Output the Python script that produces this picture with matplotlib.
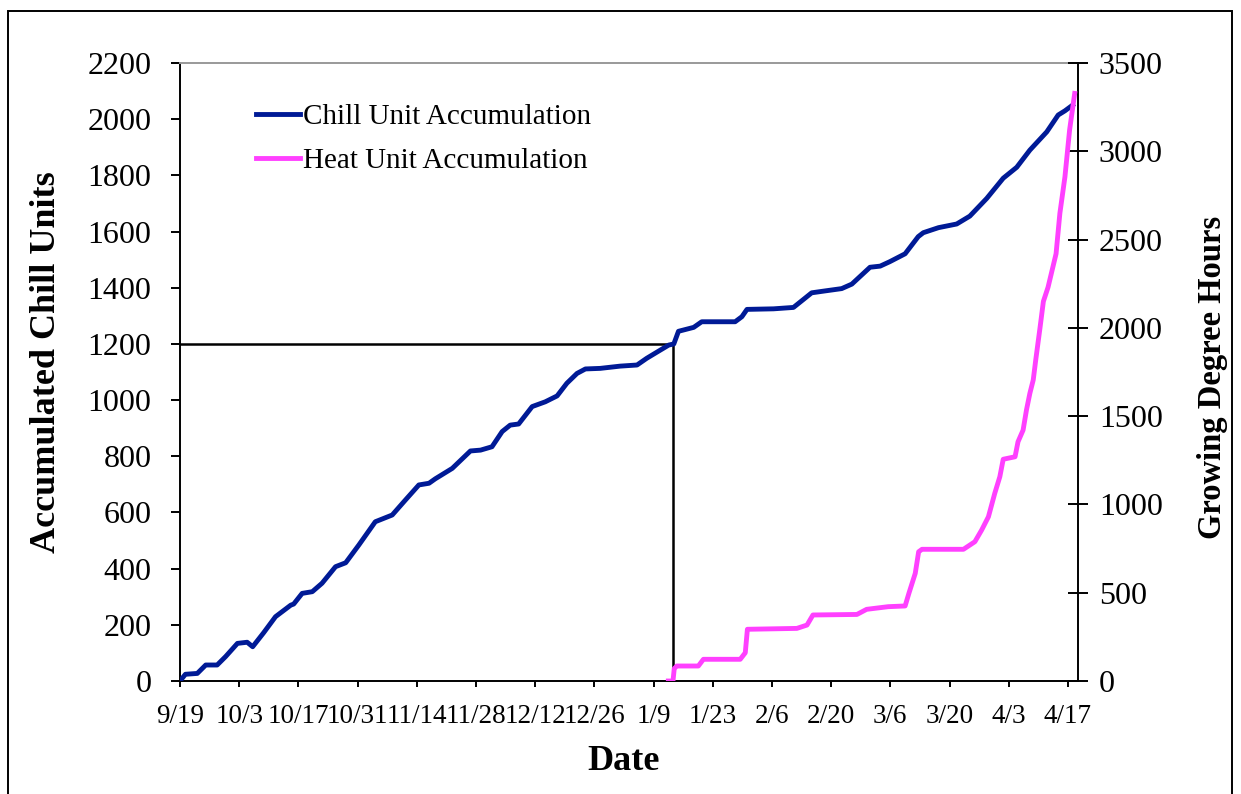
#!/usr/bin/env python3
"""
Chill unit and heat unit accumulation
"""

import matplotlib
matplotlib.use("Agg")
import matplotlib.pyplot as plt
from matplotlib.patches import Rectangle

# days counted from 9/19
tick_days = list(range(0, 211, 14))
tick_labels = ["9/19", "10/3", "10/17", "10/31", "11/14", "11/28", "12/12", "12/26",
               "1/9", "1/23", "2/6", "2/20", "3/6", "3/20", "4/3", "4/17"]

chill_days = [0, 1.3, 4.1, 6.1, 8.8,
              10.8, 13.6, 15.9, 17.2, 19.8,
              22.6, 26.2, 26.9, 28.9, 31.3,
              33.6, 36.8, 39.2, 42.3, 46.2,
              48.2, 50.2, 53.3, 56.5, 58.9,
              60.4, 64.4, 68.7, 71.1, 73.8,
              76.2, 78.1, 80.1, 83.3, 86.4,
              89.2, 91.5, 93.9, 95.9, 99.4,
              104.1, 108.1, 110.4, 113.6, 115.6,
              116.8, 117.9, 121.5, 123.4, 131.3,
              132.9, 134.1, 140.4, 145.1, 147.5,
              149.4, 152.2, 156.5, 158.9, 163.2,
              165.6, 167.9, 171.5, 174.6, 175.8,
              179.4, 183.7, 186.8, 190.8, 194.7,
              197.9, 201.0, 205.0, 207.7, 209.3,
              211.1]
chill_units = [0, 24, 27, 57, 57,
               87, 134, 138, 122, 172,
               229, 270, 274, 312, 318,
               348, 407, 421, 484, 567,
               579, 591, 644, 698, 704,
               720, 757, 819, 822, 834,
               888, 911, 915, 977, 994,
               1015, 1060, 1095, 1111, 1113,
               1121, 1125, 1149, 1178, 1196,
               1200, 1245, 1259, 1279, 1279,
               1297, 1323, 1325, 1330, 1359,
               1382, 1388, 1397, 1413, 1473,
               1477, 1493, 1521, 1582, 1596,
               1614, 1627, 1655, 1718, 1790,
               1829, 1890, 1955, 2015, 2030,
               2050]

heat_days = [115.5, 116.6, 116.9, 117.5, 122.6,
             123.8, 132.5, 133.7, 134.2, 145.9,
             148.3, 149.7, 160.1, 162.4, 167.5,
             171.5, 172.4, 173.9, 174.7, 175.5,
             185.3, 188.0, 189.6, 191.2, 192.7,
             193.9, 194.7, 197.5, 198.2, 199.4,
             200.2, 201.0, 201.8, 202.4, 203.4,
             204.2, 205.3, 206.3, 207.2, 208.1,
             209.3, 210.4, 211.6]
heat_hours = [0, 0, 70, 85, 85,
              123, 123, 160, 293, 298,
              317, 374, 377, 406, 421,
              425, 497, 610, 732, 746,
              746, 789, 855, 930, 1063,
              1157, 1256, 1270, 1355, 1421,
              1535, 1629, 1705, 1820, 2000,
              2150, 2230, 2330, 2420, 2649,
              2856, 3121, 3328]

# chill requirement marker
req_day = 116.7
req_units = 1200


def main():
	plt.rcParams["font.family"] = ["Liberation Serif", "DejaVu Serif"]

	fig = plt.figure(figsize=(12.41, 7.94), dpi=100)
	ax = fig.add_axes([0.1450, 0.1423, 0.7237, 0.7783])
	ax2 = ax.twinx()

	ax.plot(chill_days, chill_units, color="#001a96", linewidth=3.5,
		label="Chill Unit Accumulation", zorder=3)
	ax2.plot(heat_days, heat_hours, color="#ff40ff", linewidth=3.5,
		label="Heat Unit Accumulation", zorder=3)

	ax.plot([0, req_day], [req_units, req_units], color="black", linewidth=1.8, zorder=2)
	ax.plot([req_day, req_day], [0, req_units], color="black", linewidth=1.8, zorder=2)

	ax.set_xlim(0, 212.4)
	ax.set_ylim(0, 2200)
	ax2.set_ylim(0, 3500)

	ax.set_xticks(tick_days)
	ax.set_xticklabels(tick_labels, fontsize=19.5)
	ax.set_yticks(range(0, 2201, 200))
	ax.tick_params(axis="y", labelsize=23, direction="out", length=6.5, width=1.4, pad=14)
	ax.tick_params(axis="x", direction="out", length=4.5, width=1.4, pad=12)
	ax2.set_yticks(range(0, 3501, 500))
	ax2.tick_params(axis="y", labelsize=23, direction="inout", length=14, width=1.4, pad=8)

	for s in ["left", "bottom"]:
		ax.spines[s].set_linewidth(1.4)
	ax.spines["right"].set_visible(False)
	ax.spines["top"].set_color("#999999")
	ax.spines["top"].set_linewidth(1.4)
	for s in ["left", "bottom", "top"]:
		ax2.spines[s].set_visible(False)
	ax2.spines["right"].set_linewidth(1.4)

	fig.text(623 / 1241, 1 - 762 / 794, "Date", fontsize=26, fontweight="bold",
		ha="center", va="center")
	fig.text(47 / 1241, 1 - 362 / 794, "Accumulated Chill Units", fontsize=26,
		fontweight="bold", rotation=90, ha="center", va="center")
	fig.text(1212 / 1241, 1 - 377 / 794, "Growing Degree Hours", fontsize=23.5,
		fontweight="bold", rotation=90, ha="center", va="center")

	h1, l1 = ax.get_legend_handles_labels()
	h2, l2 = ax2.get_legend_handles_labels()
	ax2.legend(h1 + h2, l1 + l2, loc="upper left", bbox_to_anchor=(0.072, 0.953),
		frameon=False, fontsize=21, handlelength=1.5, handletextpad=0.1,
		labelspacing=0.6, borderaxespad=0)

	fig.patches.append(Rectangle((8 / 1241, -0.01), 1224 / 1241, 1.01 - 11 / 794,
		transform=fig.transFigure, fill=False, edgecolor="black", linewidth=1.4))

	fig.savefig("out.png", dpi=100)


if __name__ == "__main__":
	main()
